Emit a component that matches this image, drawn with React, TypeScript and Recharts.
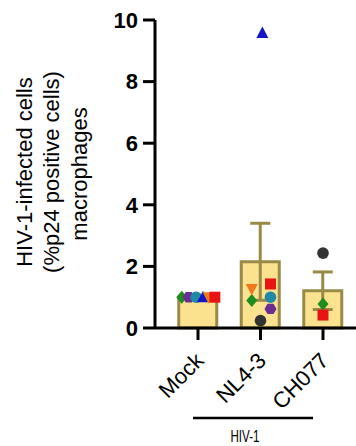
import React from 'react';
import { ComposedChart, Bar, ErrorBar, Scatter, XAxis, YAxis, Customized } from 'recharts';

const categories = ['Mock', 'NL4-3', 'CH077'];
const meanValues = [1.0, 2.15, 1.21];
const semValues = [0, 1.25, 0.61];
const yTicks = [0, 2, 4, 6, 8, 10];

// per-donor values per category (null = no point)
const greenDiamond = [1.0, 0.89, 0.78];
const purpleHexagon = [1.0, 0.62, null];
const tealCircle = [1.0, 1.0, null];
const blueTriangle = [1.0, 9.58, null];
const orangeInvTriangle = [1.0, 1.27, null];
const redSquare = [1.0, 1.43, 0.42];
const blackCircle = [null, 0.24, 2.43];

const FONT = '"Liberation Sans", Arial, sans-serif';
const BAR_FILL = '#FBE28E';
const BAR_STROKE = '#9A8A47';
const X_DOMAIN: [number, number] = [-0.688, 2.528];

type Kind = 'diamond' | 'hexagon' | 'circle' | 'triangle' | 'invTriangle' | 'square';

const series: { name: string; values: (number | null)[]; kind: Kind; color: string; jitter: number[] }[] = [
  { name: 'green', values: greenDiamond, kind: 'diamond', color: '#1E8C1E', jitter: [-0.26, -0.14, 0] },
  { name: 'purple', values: purpleHexagon, kind: 'hexagon', color: '#6B2D90', jitter: [-0.15, 0.16, 0] },
  { name: 'teal', values: tealCircle, kind: 'circle', color: '#2089A8', jitter: [-0.03, 0.16, 0] },
  { name: 'blue', values: blueTriangle, kind: 'triangle', color: '#1515C8', jitter: [0.08, 0.03, 0] },
  { name: 'orange', values: orangeInvTriangle, kind: 'invTriangle', color: '#EE7A1C', jitter: [0.17, -0.14, 0] },
  { name: 'red', values: redSquare, kind: 'square', color: '#E81414', jitter: [0.27, 0.16, 0] },
  { name: 'black', values: blackCircle, kind: 'circle', color: '#333333', jitter: [0, 0, 0] },
];

const barData = categories.map((c, i) => ({ x: i, name: c, mean: meanValues[i], sem: semValues[i] }));

const Marker = ({ cx, cy, kind, color }: { cx: number; cy: number; kind: Kind; color: string }) => {
  if (cx == null || cy == null) return null;
  switch (kind) {
    case 'diamond':
      return <polygon points={`${cx},${cy - 6.5} ${cx + 5.5},${cy} ${cx},${cy + 6.5} ${cx - 5.5},${cy}`} fill={color} />;
    case 'hexagon': {
      const r = 6;
      const pts = Array.from({ length: 6 }, (_, k) => {
        const a = (Math.PI / 3) * k;
        return `${cx + r * Math.cos(a)},${cy + r * Math.sin(a)}`;
      }).join(' ');
      return <polygon points={pts} fill={color} />;
    }
    case 'circle':
      return <circle cx={cx} cy={cy} r={5.8} fill={color} />;
    case 'triangle':
      return <polygon points={`${cx},${cy - 6.5} ${cx + 6},${cy + 5} ${cx - 6},${cy + 5}`} fill={color} />;
    case 'invTriangle':
      return <polygon points={`${cx - 6},${cy - 5} ${cx + 6},${cy - 5} ${cx},${cy + 6.5}`} fill={color} />;
    case 'square':
      return <rect x={cx - 5.5} y={cy - 5.5} width={11} height={11} fill={color} />;
    default:
      return null;
  }
};

const XTick = (props: any) => {
  const { x, y, payload } = props;
  return (
    <g transform={`translate(${x},${y})`}>
      <text
        transform="translate(7,20) rotate(-45)"
        textAnchor="end"
        fontSize={22}
        fontFamily={FONT}
        fill="#000"
      >
        {categories[payload.value]}
      </text>
    </g>
  );
};

const Annotations = () => (
  <g fontFamily={FONT} fill="#000">
    <text transform="translate(32,172) rotate(-90)" textAnchor="middle" fontSize={22}>HIV-1-infected cells</text>
    <text transform="translate(59,172) rotate(-90)" textAnchor="middle" fontSize={22}>(%p24 positive cells)</text>
    <text transform="translate(87,174) rotate(-90)" textAnchor="middle" fontSize={22}>macrophages</text>
    <line x1={193} x2={313} y1={418} y2={418} stroke="#000" strokeWidth={2.5} />
    <text x={245} y={442} textAnchor="middle" fontSize={16} textLength={29} lengthAdjust="spacingAndGlyphs">HIV-1</text>
  </g>
);

export default function App() {
  return (
    <div style={{ position: 'absolute', left: 0, top: 0, width: 356, height: 446, background: '#fff' }}>
      <ComposedChart width={356} height={446} data={barData} margin={{ top: 20, right: 0, bottom: 0, left: 0 }}>
        <XAxis
          xAxisId="cat"
          dataKey="x"
          type="number"
          domain={X_DOMAIN}
          ticks={[0, 1, 2]}
          allowDataOverflow
          height={118}
          tickSize={12}
          tickMargin={2}
          tick={<XTick />}
          axisLine={{ stroke: '#000', strokeWidth: 3 }}
          tickLine={{ stroke: '#000', strokeWidth: 3 }}
        />
        <XAxis xAxisId="pts" dataKey="x" type="number" domain={X_DOMAIN} allowDataOverflow hide />
        <YAxis
          type="number"
          domain={[0, 10]}
          ticks={yTicks}
          width={155}
          tickSize={12}
          tickMargin={5}
          axisLine={{ stroke: '#000', strokeWidth: 3 }}
          tickLine={{ stroke: '#000', strokeWidth: 3 }}
          tick={{ fill: '#000', fontSize: 22, fontWeight: 'bold', fontFamily: FONT }}
        />
        <Bar xAxisId="cat" dataKey="mean" barSize={38} fill={BAR_FILL} stroke={BAR_STROKE} strokeWidth={3} isAnimationActive={false}>
          <ErrorBar dataKey="sem" width={10} stroke={BAR_STROKE} strokeWidth={3} direction="y" isAnimationActive={false} />
        </Bar>
        {series.map((s) => (
          <Scatter
            key={s.name}
            xAxisId="pts"
            name={s.name}
            data={s.values
              .map((v, i) => (v == null ? null : { x: i + s.jitter[i], y: v }))
              .filter((d) => d != null)}
            dataKey="y"
            isAnimationActive={false}
            shape={(p: any) => <Marker cx={p.cx} cy={p.cy} kind={s.kind} color={s.color} />}
          />
        ))}
        <Customized component={Annotations} />
      </ComposedChart>
    </div>
  );
}
